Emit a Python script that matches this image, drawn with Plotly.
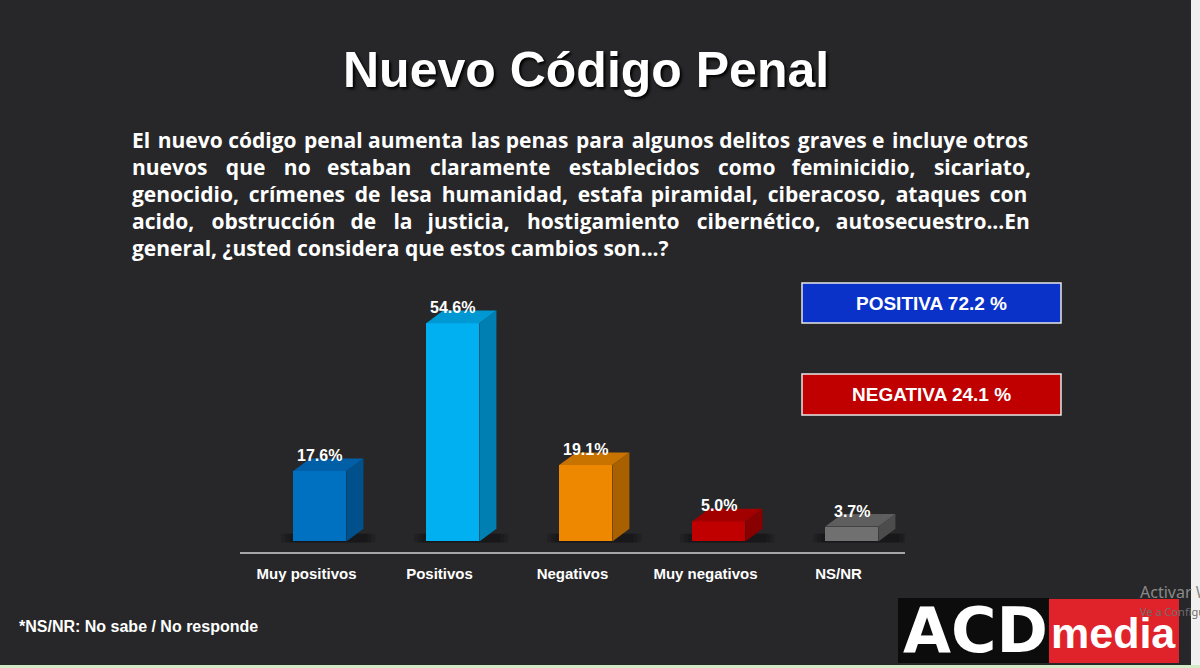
import plotly.graph_objects as go

# datos de la encuesta
categorias = ["Muy positivos", "Positivos", "Negativos", "Muy negativos", "NS/NR"]
porcentajes = [17.6, 54.6, 19.1, 5.0, 3.7]

# colores de cada barra 3D: cara frontal, lateral y superior
color_frente = ["#0070c0", "#00b0f0", "#ee8800", "#c00000", "#707070"]
color_lado = ["#00508c", "#0080b2", "#a86000", "#880000", "#4c4c4c"]
color_tapa = ["#005fa6", "#0098d2", "#c87200", "#a20000", "#5e5e5e"]

titulo = "Nuevo Código Penal"
pregunta_lineas = [
    "El nuevo código penal aumenta las penas para algunos delitos graves e incluye otros",
    "nuevos que no estaban claramente establecidos como feminicidio, sicariato,",
    "genocidio, crímenes de lesa humanidad, estafa piramidal, ciberacoso, ataques con",
    "acido, obstrucción de la justicia, hostigamiento cibernético, autosecuestro...En",
    "general, ¿usted considera que estos cambios son...?",
]
# pixeles que se reparten entre los huecos de cada linea (texto justificado)
extra_px = [13, 98, 30, 70, 0]
nota = "*NS/NR: No sabe / No responde"

positiva = porcentajes[0] + porcentajes[1]
negativa = porcentajes[2] + porcentajes[3]

W, H = 1200, 668
fondo = "#272729"
ARIAL = "Liberation Sans, Arial, sans-serif"
TAM_PREGUNTA = 21
NBSP = "\u00a0"
HAIR = "\u200a"
ancho_nbsp = 0.26 * TAM_PREGUNTA
ancho_hair = 0.083 * TAM_PREGUNTA

def px(x):
    return x / W

def py(y):
    return 1 - y / H

def justificar(linea, extra):
    palabras = linea.split(" ")
    huecos = len(palabras) - 1
    if extra == 0 or huecos == 0:
        return linea
    out = palabras[0]
    usado = 0.0
    for k, p in enumerate(palabras[1:]):
        objetivo = extra * (k + 1) / huecos - usado
        n = int(objetivo // ancho_nbsp)
        m = int(round((objetivo - n * ancho_nbsp) / ancho_hair))
        usado += n * ancho_nbsp + m * ancho_hair
        out += " " + NBSP * n + HAIR * m + p
    return out

# geometria de las barras (unidades de los ejes)
desplaza = 0.1      # la barra queda un poco a la derecha de la etiqueta
medio_ancho = 0.2
fondo_x = 0.128
fondo_y = 3.15

data = []
xs = [i + desplaza for i in range(len(categorias))]

data.append(go.Bar(
    x=xs, y=porcentajes, width=2 * medio_ancho,
    marker=dict(color=color_frente, line=dict(width=0)),
    hoverinfo="skip", showlegend=False,
))

formas = []
for i, v in enumerate(porcentajes):
    x0 = xs[i] - medio_ancho
    x1 = xs[i] + medio_ancho
    # cara lateral
    data.append(go.Scatter(
        x=[x1, x1 + fondo_x, x1 + fondo_x, x1, x1],
        y=[0, fondo_y, v + fondo_y, v, 0],
        mode="lines", fill="toself", fillcolor=color_lado[i],
        line=dict(width=0), hoverinfo="skip", showlegend=False,
    ))
    # cara superior
    data.append(go.Scatter(
        x=[x0, x0 + fondo_x, x1 + fondo_x, x1, x0],
        y=[v, v + fondo_y, v + fondo_y, v, v],
        mode="lines", fill="toself", fillcolor=color_tapa[i],
        line=dict(width=0), hoverinfo="skip", showlegend=False,
    ))
    # sombra suave en la base
    for ex in [0.09, 0.06, 0.03]:
        formas.append(dict(
            type="rect", xref="x", yref="y", layer="below",
            x0=x0 - ex, x1=x1 + fondo_x + ex, y0=-0.3, y1=fondo_y * 0.6,
            fillcolor="rgba(0,0,0,0.13)", line=dict(width=0),
        ))

fig = go.Figure(data)

anotaciones = []

# etiquetas de valor
for i, v in enumerate(porcentajes):
    anotaciones.append(dict(
        x=xs[i], y=v + fondo_y, xref="x", yref="y", yshift=3,
        text=f"{v:.1f}%", showarrow=False, yanchor="middle",
        font=dict(family=ARIAL, size=16, color="white", weight="bold"),
    ))

# titulo
anotaciones.append(dict(
    x=px(586), y=py(70), xref="paper", yref="paper", text=titulo,
    showarrow=False, xanchor="center", yanchor="middle",
    font=dict(family=ARIAL, size=50, color="white", weight="bold",
              shadow="2px 2px 3px #000000"),
))

# pregunta, una linea por anotacion
centros_y = [140, 167, 194, 221, 248]
for linea, extra, yc in zip(pregunta_lineas, extra_px, centros_y):
    anotaciones.append(dict(
        x=px(130), y=py(yc), xref="paper", yref="paper",
        text=justificar(linea, extra),
        showarrow=False, xanchor="left", yanchor="middle",
        font=dict(family="Open Sans", size=TAM_PREGUNTA, color="white", weight="bold"),
    ))

# cajas de resumen
cajas = [
    (f"POSITIVA {positiva:.1f} %", "#0a32c8", 283, 323),
    (f"NEGATIVA {negativa:.1f} %", "#c00000", 374, 415),
]
for texto, color, y0, y1 in cajas:
    formas.append(dict(
        type="rect", xref="paper", yref="paper",
        x0=px(802), x1=px(1061), y0=py(y1), y1=py(y0),
        fillcolor=color, line=dict(color="#e8e8e8", width=1.5),
    ))
    anotaciones.append(dict(
        x=px(931), y=py((y0 + y1) / 2), xref="paper", yref="paper",
        text=texto, showarrow=False, xanchor="center", yanchor="middle",
        font=dict(family=ARIAL, size=19, color="white", weight="bold"),
    ))

# nota al pie
anotaciones.append(dict(
    x=px(17), y=py(626), xref="paper", yref="paper", text=nota,
    showarrow=False, xanchor="left", yanchor="middle",
    font=dict(family=ARIAL, size=16, color="white", weight="bold"),
))

# logo ACD media
formas.append(dict(type="rect", xref="paper", yref="paper",
                   x0=px(898), x1=px(1049), y0=py(663), y1=py(598),
                   fillcolor="#0c0c0c", line=dict(width=0)))
formas.append(dict(type="rect", xref="paper", yref="paper",
                   x0=px(1049), x1=px(1179), y0=py(663), y1=py(599),
                   fillcolor="#e0232a", line=dict(width=0)))
anotaciones.append(dict(
    x=px(975), y=py(630), xref="paper", yref="paper", text="ACD",
    showarrow=False, xanchor="center", yanchor="middle",
    font=dict(family="DejaVu Sans", size=62, color="white", weight="bold"),
))
anotaciones.append(dict(
    x=px(1113), y=py(633), xref="paper", yref="paper", text="media",
    showarrow=False, xanchor="center", yanchor="middle",
    font=dict(family=ARIAL, size=43, color="white", weight="bold"),
))

# marca de agua de la captura
anotaciones.append(dict(
    x=px(1138), y=py(592), xref="paper", yref="paper", text="Activar Windows",
    showarrow=False, xanchor="left", yanchor="middle",
    font=dict(family="Noto Sans", size=16, color="#8a8a8a"),
))
anotaciones.append(dict(
    x=px(1138), y=py(611), xref="paper", yref="paper",
    text="Ve a Configuración para activar Windows.",
    showarrow=False, xanchor="left", yanchor="middle",
    font=dict(family="Noto Sans", size=11, color="#6e6e6e"),
))

# bordes claros de la captura
formas.append(dict(type="rect", xref="paper", yref="paper",
                   x0=px(1191), x1=1, y0=0, y1=1,
                   fillcolor="#f0f0f0", line=dict(width=0), layer="below"))
formas.append(dict(type="rect", xref="paper", yref="paper",
                   x0=0, x1=1, y0=0, y1=py(665),
                   fillcolor="#d2eac8", line=dict(width=0)))

fig.update_layout(
    width=W, height=H,
    margin=dict(l=0, r=0, t=0, b=0),
    paper_bgcolor=fondo, plot_bgcolor="rgba(0,0,0,0)",
    xaxis=dict(
        domain=[px(240), px(905)], range=[-0.5, 4.5],
        tickvals=list(range(len(categorias))), ticktext=categorias,
        tickfont=dict(family=ARIAL, size=15, color="white", weight="bold"),
        ticks="", ticklabelstandoff=7,
        showline=True, linecolor="#a6a6a6", linewidth=1.5,
        showgrid=False, zeroline=False, fixedrange=True,
    ),
    yaxis=dict(
        domain=[py(552), py(290)], range=[-2.65, 62.9],
        visible=False, fixedrange=True,
    ),
    bargap=0,
    annotations=anotaciones,
    shapes=formas,
    showlegend=False,
)

# sin margen del navegador alrededor de la figura
fig.write_html(
    "out.html",
    config={"displayModeBar": False},
    post_script="document.body.style.margin='0';document.body.style.overflow='hidden';",
)
